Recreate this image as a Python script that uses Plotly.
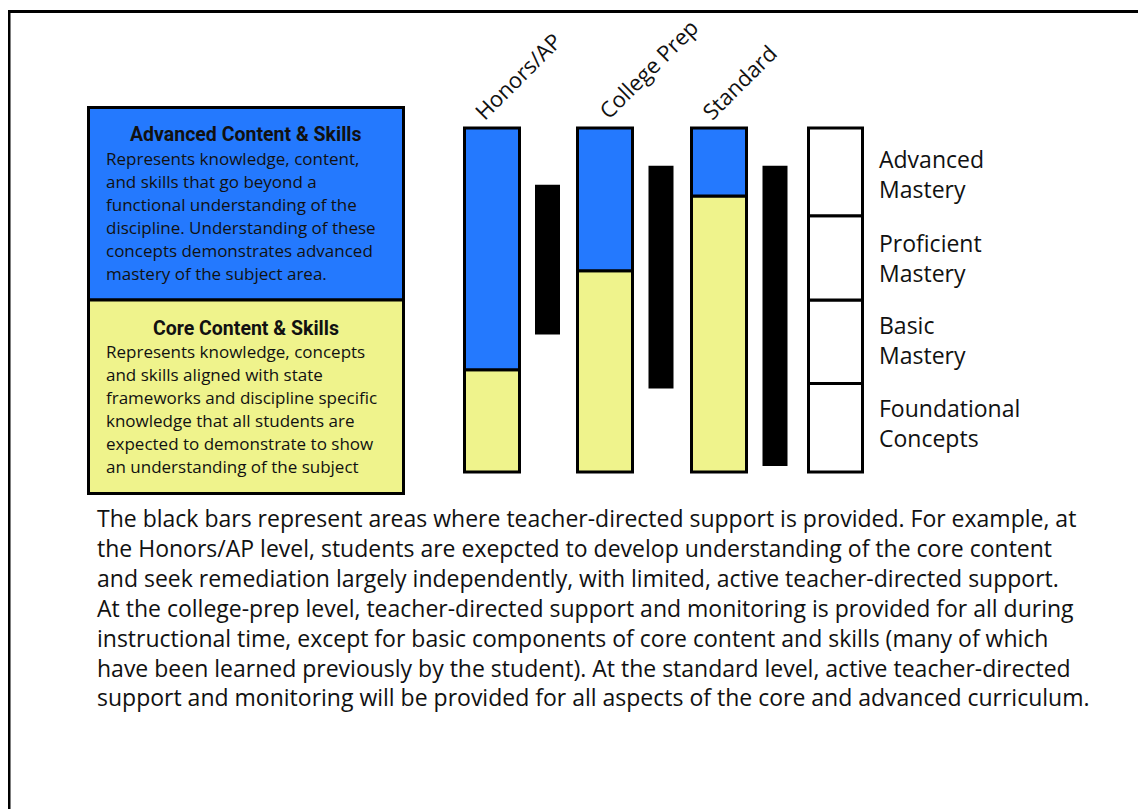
import plotly.graph_objects as go

# ---------------- data ----------------
levels = ["Honors/AP", "College Prep", "Standard"]
core_height = [1.19, 2.34, 3.21]          # core content & skills (in mastery levels)
scale_top = 4.0                            # top of the mastery scale
support_low = [1.60, 0.97, 0.07]           # teacher-directed support (black bars)
support_high = [3.34, 3.56, 3.56]
mastery_labels = ["Foundational<br>Concepts", "Basic<br>Mastery",
                  "Proficient<br>Mastery", "Advanced<br>Mastery"]
mastery_heights = [1.03, 0.97, 0.98, 1.02]

adv_title = "Advanced Content & Skills"
adv_lines = ["Represents knowledge, content,",
             "and skills that go beyond a",
             "functional understanding of the",
             "discipline. Understanding of these",
             "concepts demonstrates advanced",
             "mastery of the subject area."]
core_title = "Core Content & Skills"
core_lines = ["Represents knowledge, concepts",
              "and skills aligned with state",
              "frameworks and discipline specific",
              "knowledge that all students are",
              "expected to demonstrate to show",
              "an understanding of the subject"]
para_lines = [
    "The black bars represent areas where teacher-directed support is provided. For example, at",
    "the Honors/AP level, students are exepcted to develop understanding of the core content",
    "and seek remediation largely independently, with limited, active teacher-directed support.",
    "At the college-prep level, teacher-directed support and monitoring is provided for all during",
    "instructional time, except for basic components of core content and skills (many of which",
    "have been learned previously by the student). At the standard level, active teacher-directed",
    "support and monitoring will be provided for all aspects of the core and advanced curriculum.",
]

# ---------------- layout / style ----------------
PAGE_W, PAGE_H = 1146, 809
OFF = 8                                   # default page body margin
W, H = PAGE_W - OFF, PAGE_H - OFF         # figure size
BLUE = "#2479FE"
YELLOW = "#EFF38C"
FONT = "Open Sans, Noto Sans, sans-serif"
BOLDFONT = "Roboto, Open Sans, sans-serif"

bar_x = [492, 605, 719]
support_x = [547.5, 661, 775]
mastery_x = 835.5
label_px = [(464.5, 128.5), (589.5, 127.5), (692, 128.5)]
mastery_label_shift = [5, 2, 0, -2]

PX0, PX4 = 472.0, 128.0   # page rows of level 0 and level 4
unit = (PX0 - PX4) / scale_top
y_bottom = (PX0 - PAGE_H) / unit
y_top = (PX0 - OFF) / unit


def px(x):
    return (x - OFF) / W


def py(y):
    return 1 - (y - OFF) / H


fig = go.Figure()

fig.add_trace(go.Bar(x=bar_x, y=core_height, base=[0] * 3, width=55,
                     marker=dict(color=YELLOW, line=dict(color="black", width=3)),
                     name="Core Content & Skills"))
fig.add_trace(go.Bar(x=bar_x, y=[scale_top - c for c in core_height], base=core_height,
                     width=55,
                     marker=dict(color=BLUE, line=dict(color="black", width=3)),
                     name="Advanced Content & Skills"))
fig.add_trace(go.Bar(x=support_x, y=[h - l for h, l in zip(support_high, support_low)],
                     base=support_low, width=25,
                     marker=dict(color="black", line=dict(width=0)),
                     name="Teacher-directed support"))
m_base = [sum(mastery_heights[:i]) for i in range(len(mastery_heights))]
fig.add_trace(go.Bar(x=[mastery_x] * 4, y=mastery_heights, base=m_base, width=54,
                     marker=dict(color="white", line=dict(color="black", width=3)),
                     name="Mastery"))

ann = []
for lab, b, h, s in zip(mastery_labels, m_base, mastery_heights, mastery_label_shift):
    ann.append(dict(x=877, y=b + h / 2, xref="x", yref="y", text=lab, showarrow=False,
                    xanchor="left", yanchor="middle", align="left", yshift=s,
                    font=dict(family=FONT, size=23, color="#111")))

for lab, (lx, ly) in zip(levels, label_px):
    ann.append(dict(x=lx, y=py(ly), xref="x", yref="paper", text=lab, showarrow=False,
                    textangle=-45, xanchor="left", yanchor="bottom",
                    font=dict(family=FONT, size=22, color="#111")))

shapes = []
# legend boxes
shapes.append(dict(type="rect", xref="paper", yref="paper", x0=px(88.5), x1=px(403.5),
                   y0=py(300), y1=py(107.5), fillcolor=BLUE,
                   line=dict(color="black", width=3), layer="below"))
shapes.append(dict(type="rect", xref="paper", yref="paper", x0=px(88.5), x1=px(403.5),
                   y0=py(493.5), y1=py(300), fillcolor=YELLOW,
                   line=dict(color="black", width=3), layer="below"))
# frame
shapes.append(dict(type="line", xref="paper", yref="paper", x0=px(9), x1=px(9),
                   y0=0, y1=py(10), line=dict(color="black", width=3)))
shapes.append(dict(type="line", xref="paper", yref="paper", x0=px(7.5), x1=1,
                   y0=py(11.5), y1=py(11.5), line=dict(color="black", width=3)))


def add_line(text, x, baseline, size, family=FONT, anchor="left", bold=False, k=0.39):
    t = "<b>%s</b>" % text if bold else text
    ann.append(dict(x=px(x), y=py(baseline - k * size), xref="paper", yref="paper",
                    text=t, showarrow=False, xanchor=anchor, yanchor="middle",
                    font=dict(family=family, size=size, color="#111")))


add_line(adv_title, 246, 141.5, 19.5, BOLDFONT, "center", True, 0.35)
for i, t in enumerate(adv_lines):
    add_line(t, 104, 165 + i * 23, 17)
add_line(core_title, 246, 335, 19.5, BOLDFONT, "center", True, 0.35)
for i, t in enumerate(core_lines):
    add_line(t, 104, 358 + i * 23, 17)

# explanatory paragraph as one block (line spacing handled by plotly)
ann.append(dict(x=px(95), y=py(607), xref="paper", yref="paper",
                text="<br>".join(para_lines), showarrow=False, align="left",
                xanchor="left", yanchor="middle",
                font=dict(family=FONT, size=23, color="#111")))

fig.update_layout(
    width=W, height=H, margin=dict(l=0, r=0, t=0, b=0),
    paper_bgcolor="white", plot_bgcolor="white",
    barmode="overlay", showlegend=False,
    xaxis=dict(range=[OFF, PAGE_W], visible=False, fixedrange=True),
    yaxis=dict(range=[y_bottom, y_top], visible=False, fixedrange=True),
    annotations=ann, shapes=shapes,
)

fig.write_html("out.html")
